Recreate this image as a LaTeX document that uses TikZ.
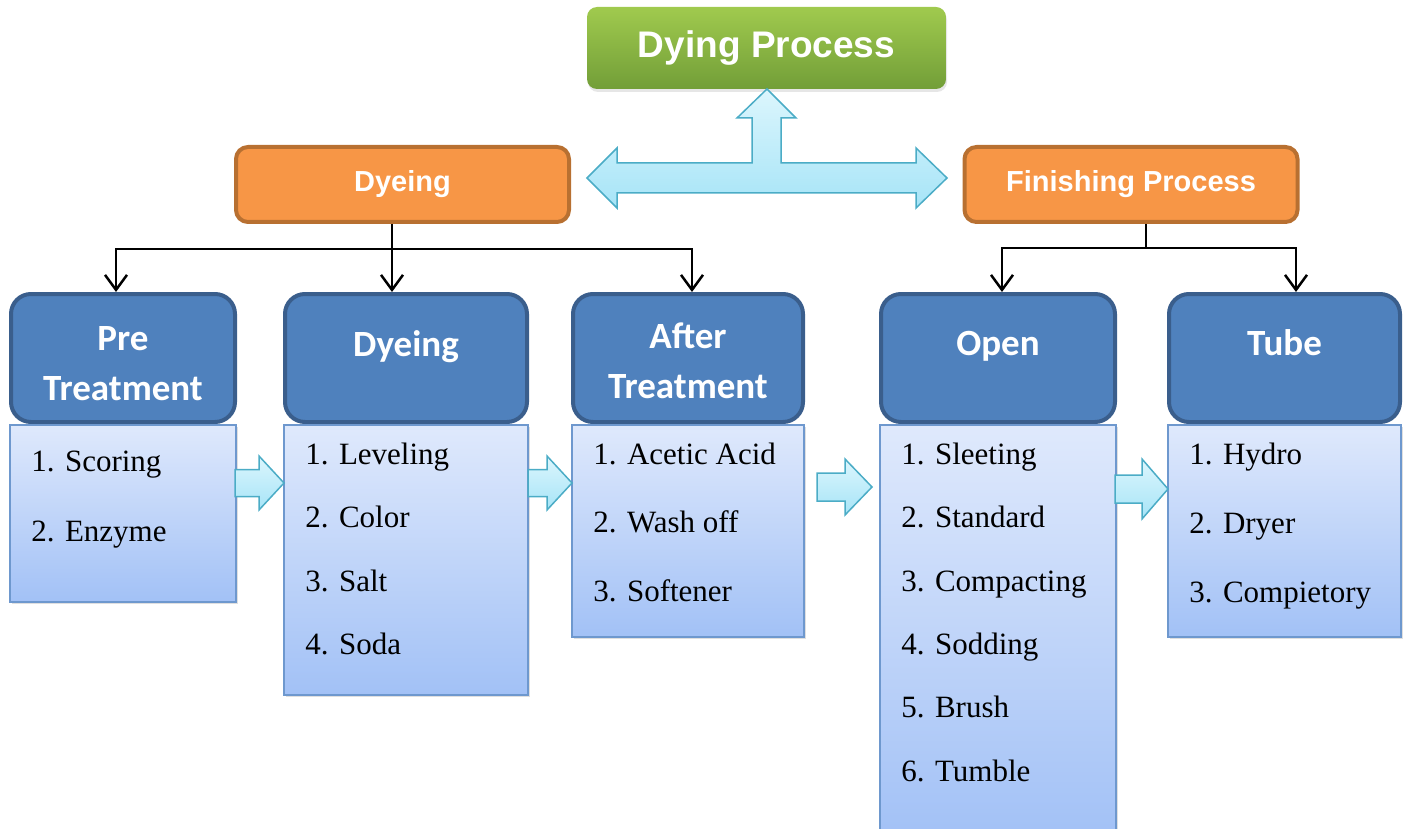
\documentclass[tikz,border=0pt]{standalone}
\usepackage{fontspec}
\setmainfont{Liberation Serif}
\newfontfamily\calibri{Carlito}
\newfontfamily\arialfont{Liberation Sans}
\usetikzlibrary{arrows.meta, positioning, calc, shadows}
\definecolor{greenTop}{RGB}{160, 202, 78}
\definecolor{greenBot}{RGB}{114, 158, 56}
\definecolor{orangeFg}{RGB}{184, 112, 49}
\definecolor{orangeBg}{RGB}{247, 150, 70}
\definecolor{blueFg}{RGB}{58, 94, 140}
\definecolor{blueBg}{RGB}{79, 129, 189}
\definecolor{listFg}{RGB}{110, 152, 206}
\definecolor{listTop}{RGB}{223, 233, 252}
\definecolor{listBot}{RGB}{162, 193, 246}
\definecolor{cyanFg}{RGB}{75, 172, 198}
\definecolor{cyanTop}{RGB}{220, 246, 253}
\definecolor{cyanBot}{RGB}{166, 228, 247}
\tikzstyle{arrow} = [line width=2.5pt, -{Straight Barb[length=15pt, width=22pt]}]
\tikzstyle{line} = [line width=2.5pt]
\tikzstyle{title} = [rectangle, rounded corners=10pt, top color=greenTop, bottom color=greenBot, text=white, font=\arialfont\bfseries\fontsize{37}{44}\selectfont, drop shadow={opacity=0.2, shadow xshift=1pt, shadow yshift=-3pt}]
\tikzstyle{orangebox} = [rectangle, rounded corners=12pt, line width=4pt, draw=orangeFg, fill=orangeBg, text=white, minimum width=333, minimum height=75, font=\arialfont\bfseries\fontsize{29}{34}\selectfont]
\tikzstyle{header} = [rectangle, rounded corners=20pt, line width=4pt, draw=blueFg, fill=blueBg, minimum height=128]
\tikzstyle{headtext} = [text=white, inner sep=0pt, anchor=north, align=center, font=\calibri\bfseries\fontsize{37}{50}\selectfont]
\tikzstyle{listbox} = [rectangle, line width=1.5pt, draw=listFg, top color=listTop, bottom color=listBot, anchor=north, drop shadow={opacity=0.25, shadow xshift=2pt, shadow yshift=-2pt}]
\tikzstyle{listtext} = [inner sep=0pt, anchor=north west, align=left, xshift=22]
\tikzstyle{blockarrow} = [line width=1.5pt, draw=cyanFg, top color=cyanTop, bottom color=cyanBot]

\begin{document}
\begin{tikzpicture}[x=1pt, y=-1pt, node distance=0pt]
\useasboundingbox (0,0) rectangle (1406,829);

\node (dying) [title, minimum width=359, minimum height=82] at (766.5,48) {Dying Process};
\node (dyeing) [orangebox] at (402.5,184.5) {Dyeing};
\node (finish) [orangebox] at (1131,184.5) {Finishing Process};

% double block arrow under the title
\draw [blockarrow] (767,89) -- (796,118) -- (781,118) -- (781,163) -- (916,163) -- (916,148) -- (947,178)
  -- (916,208) -- (916,193) -- (617,193) -- (617,208) -- (587,178) -- (617,148) -- (617,163)
  -- (752,163) -- (752,118) -- (737,118) -- cycle;

\node (pre) [header, minimum width=224, anchor=north west] at (9,292) {};
\node (dye) [header, minimum width=242, anchor=north west, xshift=46] at (pre.north east) {};
\node (after) [header, minimum width=230, anchor=north west, xshift=42] at (dye.north east) {};
\node (open) [header, minimum width=234, anchor=north west, xshift=74] at (after.north east) {};
\node (tube) [header, minimum width=231, anchor=north west, xshift=50] at (open.north east) {};

\node (preT) [headtext, yshift=-34] at (pre.north) {Pre\\Treatment};
\node (dyeT) [headtext, yshift=-38] at (dye.north) {Dyeing};
\node (afterT) [headtext, yshift=-31] at (after.north) {After\\Treatment};
\node (openT) [headtext, yshift=-39] at (open.north) {Open};
\node (tubeT) [headtext, yshift=-37] at (tube.north) {Tube};

\node (preList) [listbox, minimum width=226, minimum height=177] at (pre.south) {};
\node (dyeList) [listbox, minimum width=244, minimum height=270] at (dye.south) {};
\node (afterList) [listbox, minimum width=232, minimum height=212] at (after.south) {};
\node (openList) [listbox, minimum width=236, minimum height=414] at (open.south) {};
\node (tubeList) [listbox, minimum width=233, minimum height=212] at (tube.south) {};

\node (preItems) [listtext, yshift=-26.5, font=\fontsize{31}{70}\selectfont] at (preList.north west) {1. Scoring\\2. Enzyme};
\node (dyeItems) [listtext, yshift=-18.5, font=\fontsize{31}{63.5}\selectfont] at (dyeList.north west) {1. Leveling\\2. Color\\3. Salt\\4. Soda};
\node (afterItems) [listtext, yshift=-18.5, font=\fontsize{31}{68.5}\selectfont] at (afterList.north west) {1. Acetic Acid\\2. Wash off\\3. Softener};
\node (openItems) [listtext, yshift=-18.5, font=\fontsize{31}{63.4}\selectfont] at (openList.north west) {1. Sleeting\\2. Standard\\3. Compacting\\4. Sodding\\5. Brush\\6. Tumble};
\node (tubeItems) [listtext, yshift=-18.5, font=\fontsize{31}{69}\selectfont] at (tubeList.north west) {1. Hydro\\2. Dryer\\3. Compietory};

% small block arrows between the lists
\draw [blockarrow] (235,469.5) -- (259,469.5) -- (259,456) -- (284,483) -- (259,510) -- (259,496.5) -- (235,496.5) -- cycle;
\draw [blockarrow] (528,469.5) -- (547,469.5) -- (547,456) -- (572,483) -- (547,510) -- (547,496.5) -- (528,496.5) -- cycle;
\draw [blockarrow] (817,473) -- (845,473) -- (845,459) -- (872,487) -- (845,515) -- (845,501) -- (817,501) -- cycle;
\draw [blockarrow] (1115,475) -- (1142,475) -- (1142,459) -- (1168,489) -- (1142,519) -- (1142,503) -- (1115,503) -- cycle;

\coordinate (dyeFork) at ($(dyeing.south)+(-10.5,25)$);
\draw [line] ($(dyeing.south)+(-10.5,0)$) -- (dyeFork);
\draw [arrow] (dyeFork) -| ($(pre.north)+(-7,0)$);
\draw [arrow] (dyeFork) -- ($(dye.north)+(-14,0)$);
\draw [arrow] (dyeFork) -| ($(after.north)+(4,0)$);

\coordinate (finFork) at ($(finish.south)+(15,24)$);
\draw [line] ($(finish.south)+(15,0)$) -- (finFork);
\draw [arrow] (finFork) -| ($(open.north)+(4,0)$);
\draw [arrow] (finFork) -| ($(tube.north)+(11.5,0)$);

\end{tikzpicture}
\end{document}
